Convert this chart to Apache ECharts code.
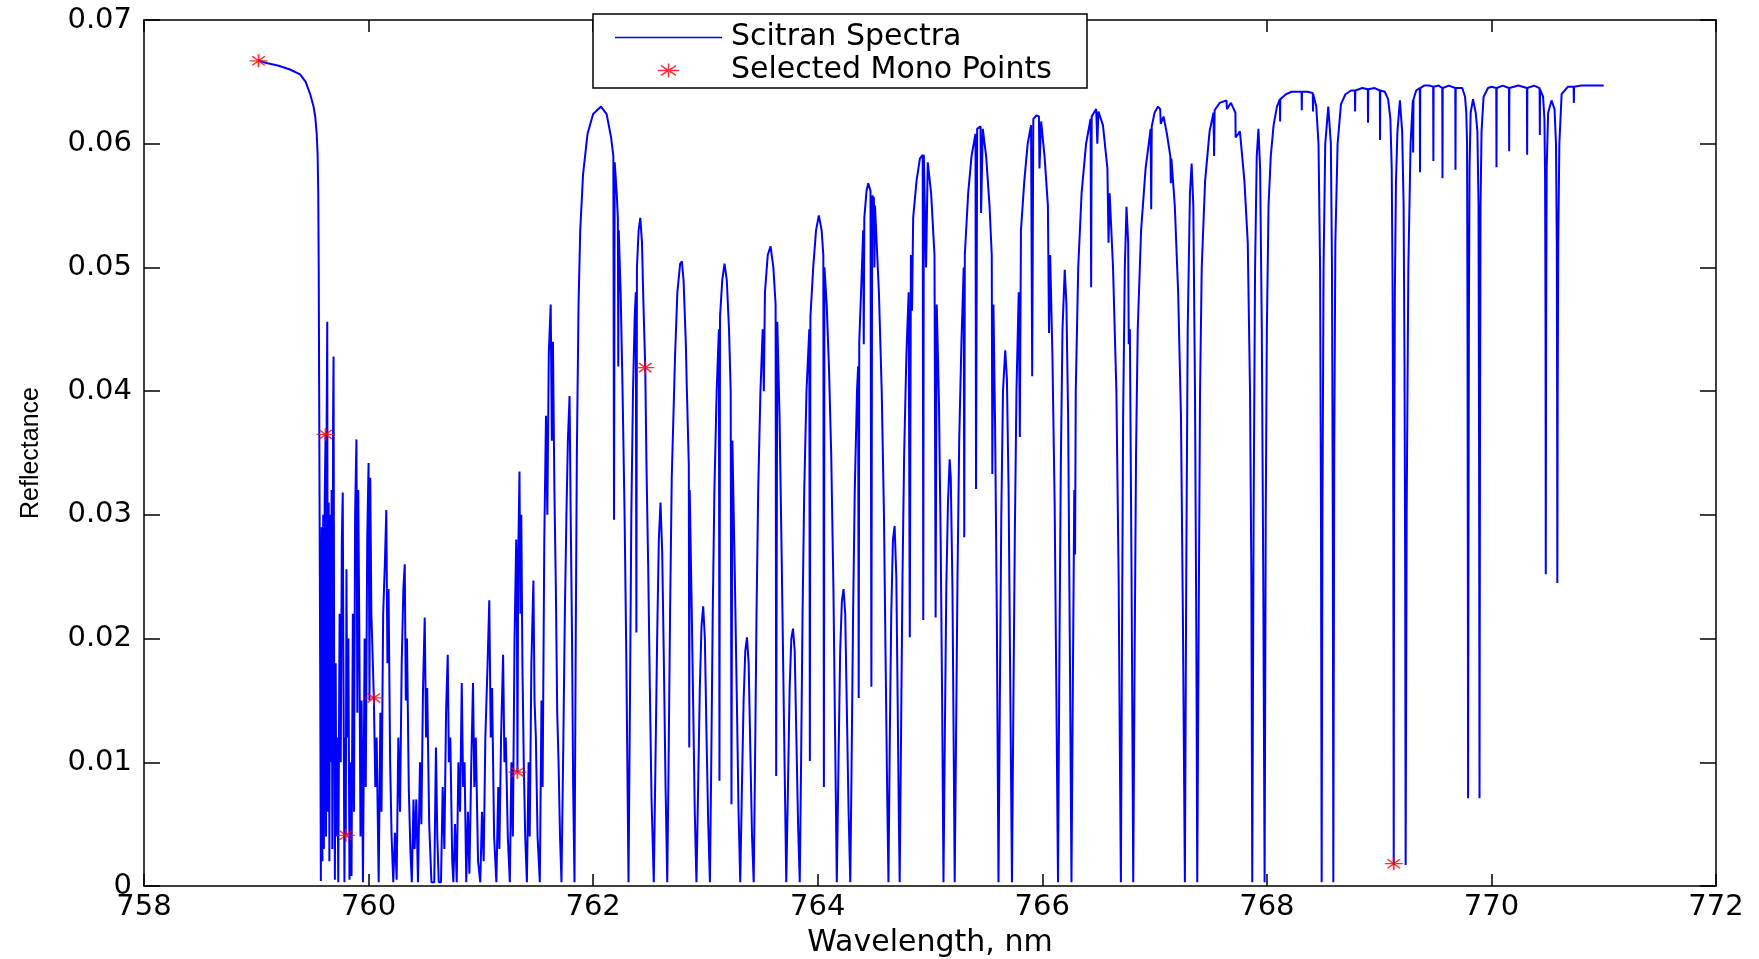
<!DOCTYPE html>
<html>
<head>
<meta charset="utf-8">
<script src="https://cdn.jsdelivr.net/npm/echarts@6/dist/echarts.min.js"></script>
<style>
html,body{margin:0;padding:0;background:#fff;}
#chart{width:1759px;height:959px;}
</style>
</head>
<body>
<div id="chart"></div>
<script>
// ---- Data (wavelength nm, reflectance) ----
const headSpec = [
[759.02,0.0667],[759.10,0.0665],[759.20,0.0663],[759.30,0.0660],[759.39,0.0656],[759.44,0.0650],
[759.48,0.0640],[759.51,0.0630],[759.525,0.0622],[759.538,0.0608],[759.546,0.0592],[759.552,0.0560],
[759.556,0.0500],[759.560,0.0400],[759.564,0.0300],[759.570,0.0150],[759.575,0.0004]
];
const forestSpec = [
[759.583,0.029],[759.589,0.002],[759.596,0.030],[759.602,0.003],[759.609,0.031],[759.617,0.0365],[759.621,0.004],
[759.627,0.038],[759.632,0.0456],[759.637,0.006],[759.645,0.031],[759.651,0.002],[759.658,0.030],[759.664,0.010],
[759.671,0.032],[759.677,0.003],[759.684,0.038],[759.688,0.0428],[759.694,0.015],[759.700,0.0005],[759.707,0.018],
[759.713,0.004],[759.722,0.012],[759.730,0.0003],[759.742,0.022],[759.752,0.010],[759.762,0.028],[759.770,0.0318],
[759.776,0.018],[759.785,0.0003],[759.792,0.012],[759.797,0.0041],[759.803,0.0256],[759.810,0.012],[759.820,0.020],
[759.830,0.0005],[759.840,0.010],[759.848,0.0008],[759.860,0.022],[759.870,0.006],[759.880,0.030],[759.892,0.0361],
[759.900,0.014],[759.908,0.032],[759.918,0.020],[759.928,0.004],[759.938,0.015],[759.950,0.0003],[759.965,0.020],
[759.975,0.008],[759.988,0.028],[760.000,0.0342],[760.008,0.015],[760.015,0.033],[760.025,0.022],[760.038,0.018],
[760.047,0.0152],[760.060,0.008],[760.072,0.012],[760.090,0.0003],[760.105,0.014],[760.115,0.006],[760.130,0.022],
[760.145,0.026],[760.158,0.0304],[760.168,0.018],[760.178,0.024],[760.192,0.010],[760.205,0.004],[760.220,0.0003],
[760.235,0.0043],[760.250,0.0005],[760.265,0.012],[760.280,0.006],[760.295,0.018],[760.310,0.024],[760.322,0.026],
[760.332,0.015],[760.342,0.020],[760.358,0.008],[760.372,0.003],[760.385,0.0003],[760.400,0.007],[760.410,0.003],
[760.425,0.007],[760.440,0.0003],[760.458,0.010],[760.470,0.005],[760.485,0.016],[760.500,0.0217],[760.512,0.012],
[760.522,0.016],[760.540,0.005],[760.560,0.0003],[760.585,0.0003],[760.600,0.0112],[760.612,0.004],[760.625,0.0003],
[760.645,0.0003],[760.660,0.008],[760.675,0.003],[760.690,0.014],[760.705,0.0187],[760.715,0.010],[760.728,0.012],
[760.745,0.002],[760.755,0.0003],[760.770,0.005],[760.785,0.0003],[760.800,0.010],[760.815,0.006],[760.830,0.0164],
[760.842,0.008],[760.855,0.010],[760.870,0.0003],[760.885,0.006],[760.898,0.001],[760.915,0.010],[760.930,0.0164],
[760.942,0.008],[760.955,0.012],[760.975,0.002],[760.995,0.0003],[761.010,0.006],[761.025,0.002],[761.040,0.012],
[761.060,0.018],[761.075,0.0231],[761.088,0.012],[761.100,0.016],[761.118,0.004],[761.138,0.0003],[761.155,0.008],
[761.165,0.003],[761.180,0.012],[761.198,0.0187],[761.210,0.010],[761.222,0.012],[761.240,0.004],[761.258,0.0003],
[761.272,0.010],[761.285,0.004],[761.300,0.020],[761.315,0.028],[761.322,0.020],[761.326,0.0092],[761.332,0.026],
[761.344,0.0335],[761.352,0.022],[761.360,0.030],[761.370,0.018],[761.382,0.010],[761.395,0.004],[761.410,0.0003],
[761.425,0.010],[761.435,0.004],[761.450,0.018],[761.468,0.0247],[761.478,0.015],[761.490,0.012],[761.505,0.004],
[761.525,0.0003],[761.540,0.015],[761.550,0.008],[761.565,0.028],[761.580,0.038],[761.592,0.030],[761.605,0.043],
[761.622,0.047],[761.632,0.036],[761.642,0.044],[761.655,0.032],[761.668,0.024],[761.680,0.014],[761.692,0.010],
[761.705,0.004],[761.718,0.0003],[761.735,0.012],[761.748,0.022],[761.762,0.030],[761.775,0.036],[761.790,0.0396],
[761.800,0.030],[761.812,0.020],[761.822,0.008],[761.834,0.0003]
];
const domeSpec = [
[761.845,0.020],[761.855,0.035],[761.870,0.047],[761.885,0.053],[761.910,0.0575],[761.950,0.0608],[762.000,0.0624],
[762.070,0.0630],[762.120,0.0624],[762.160,0.0605],[762.180,0.0590],[762.186,0.0296],[762.192,0.0585],[762.210,0.0560],
[762.220,0.0540],[762.224,0.0420],[762.228,0.0530],[762.245,0.0480],[762.262,0.0400],[762.280,0.0300],[762.296,0.0180],
[762.315,0.0003],
[762.328,0.015],[762.340,0.030],[762.355,0.040],[762.370,0.046],[762.380,0.048],[762.385,0.0205],[762.390,0.050],
[762.405,0.053],[762.420,0.054],[762.435,0.052],[762.448,0.047],[762.464,0.0419],[762.475,0.034],[762.490,0.026],
[762.505,0.016],[762.520,0.007],[762.540,0.0003],
[762.555,0.010],[762.570,0.020],[762.585,0.028],[762.600,0.031],[762.615,0.027],[762.630,0.018],[762.645,0.008],[762.660,0.0003],
[762.672,0.010],[762.685,0.022],[762.700,0.033],[762.715,0.038],[762.730,0.043],[762.750,0.048],[762.775,0.0503],
[762.790,0.0505],[762.805,0.049],[762.825,0.044],[762.835,0.040],[762.852,0.034],[762.856,0.0112],[762.860,0.032],
[762.875,0.024],[762.892,0.014],[762.905,0.006],[762.920,0.0003],
[762.935,0.008],[762.950,0.016],[762.965,0.021],[762.980,0.0226],[762.995,0.020],[763.010,0.012],[763.025,0.005],[763.040,0.0003],
[763.052,0.010],[763.065,0.022],[763.080,0.032],[763.100,0.040],[763.120,0.045],[763.125,0.0085],[763.130,0.046],
[763.150,0.049],[763.170,0.0503],[763.190,0.049],[763.210,0.045],[763.225,0.040],[763.232,0.0066],[763.240,0.036],
[763.260,0.026],[763.280,0.015],[763.295,0.006],[763.310,0.0003],
[763.325,0.008],[763.340,0.015],[763.355,0.019],[763.370,0.0201],[763.385,0.018],[763.400,0.011],[763.415,0.004],[763.430,0.0003],
[763.442,0.010],[763.455,0.022],[763.470,0.032],[763.490,0.040],[763.510,0.045],[763.520,0.040],[763.530,0.048],
[763.555,0.051],[763.580,0.0517],[763.605,0.050],[763.625,0.047],[763.630,0.0089],[763.640,0.0456],[763.660,0.038],
[763.680,0.026],[763.700,0.013],[763.720,0.0003],
[763.735,0.008],[763.750,0.016],[763.765,0.020],[763.780,0.0208],[763.795,0.019],[763.810,0.012],[763.825,0.005],[763.840,0.0003],
[763.852,0.010],[763.865,0.022],[763.880,0.032],[763.900,0.040],[763.925,0.045],[763.930,0.0101],[763.935,0.046],
[763.960,0.050],[763.985,0.053],[764.010,0.0542],[764.035,0.053],[764.050,0.051],[764.055,0.008],[764.060,0.050],
[764.080,0.047],[764.100,0.042],[764.120,0.035],[764.140,0.024],[764.155,0.012],[764.170,0.0003],
[764.185,0.010],[764.200,0.019],[764.215,0.023],[764.230,0.024],[764.245,0.022],[764.260,0.014],[764.275,0.006],[764.290,0.0003],
[764.302,0.010],[764.315,0.022],[764.330,0.032],[764.350,0.040],[764.360,0.042],[764.365,0.0152],[764.370,0.044],
[764.390,0.049],[764.405,0.053],[764.410,0.0438],[764.415,0.054],[764.435,0.0562],[764.450,0.0568],[764.470,0.0562],
[764.478,0.0161],[764.485,0.0558],[764.500,0.0556],[764.505,0.050],[764.510,0.0550],[764.520,0.053],[764.545,0.048],
[764.570,0.040],[764.590,0.030],[764.605,0.018],[764.618,0.008],[764.630,0.0003],
[764.642,0.012],[764.655,0.022],[764.670,0.028],[764.685,0.0291],[764.700,0.025],[764.712,0.015],[764.722,0.006],[764.730,0.0003],
[764.742,0.012],[764.755,0.025],[764.770,0.035],[764.790,0.043],[764.810,0.048],[764.820,0.0201],[764.830,0.051],
[764.840,0.0465],[764.850,0.054],[764.880,0.057],[764.910,0.0588],[764.935,0.0591],[764.940,0.0215],[764.945,0.0591],
[764.960,0.0590],[764.965,0.050],[764.980,0.0585],[765.010,0.056],[765.040,0.051],[765.050,0.0217],[765.060,0.047],
[765.080,0.039],[765.095,0.028],[765.108,0.015],[765.120,0.0003],
[765.132,0.012],[765.145,0.024],[765.160,0.031],[765.175,0.0345],[765.185,0.033],[765.200,0.024],[765.212,0.010],[765.220,0.0003],
[765.232,0.012],[765.245,0.025],[765.260,0.036],[765.280,0.044],[765.300,0.050],[765.305,0.0282],[765.310,0.051],
[765.340,0.056],[765.370,0.059],[765.405,0.0608],[765.410,0.0321],[765.420,0.0612],[765.450,0.0614],[765.455,0.0544],
[765.470,0.0612],[765.500,0.059],[765.530,0.055],[765.550,0.051],[765.555,0.0333],[765.565,0.047],[765.580,0.037],
[765.595,0.022],[765.610,0.0003],
[765.622,0.015],[765.635,0.030],[765.650,0.040],[765.670,0.0433],[765.685,0.041],[765.700,0.032],[765.715,0.016],[765.730,0.0003],
[765.742,0.014],[765.755,0.028],[765.770,0.040],[765.790,0.048],[765.800,0.0363],[765.810,0.053],[765.840,0.057],
[765.870,0.060],[765.900,0.0615],[765.910,0.0412],[765.920,0.0620],[765.950,0.0623],[765.970,0.0622],[765.975,0.058],
[765.990,0.0618],[766.020,0.059],[766.050,0.055],[766.060,0.0447],[766.070,0.051],[766.090,0.043],[766.110,0.031],
[766.125,0.016],[766.140,0.0003],
[766.152,0.018],[766.165,0.034],[766.180,0.045],[766.200,0.0498],[766.215,0.047],[766.230,0.038],[766.245,0.020],[766.260,0.0003],
[766.272,0.016],[766.285,0.032],[766.292,0.0268],[766.298,0.040],[766.320,0.050],[766.350,0.056],[766.390,0.060],
[766.430,0.0620],[766.435,0.0484],[766.440,0.0622],[766.480,0.0628],[766.490,0.0600],[766.500,0.0626],[766.540,0.0615],
[766.580,0.058],[766.590,0.052],[766.600,0.056],[766.630,0.050],[766.660,0.040],[766.680,0.025],[766.690,0.012],[766.700,0.0003],
[766.710,0.020],[766.720,0.038],[766.735,0.050],[766.750,0.0549],[766.765,0.052],[766.770,0.0438],[766.780,0.045],
[766.795,0.025],[766.810,0.0003],
[766.822,0.018],[766.835,0.035],[766.850,0.045],[766.880,0.053],[766.920,0.058],[766.965,0.0612],[766.970,0.0547],
[766.975,0.0614],[767.000,0.0625],[767.030,0.0630],[767.050,0.0628],[767.055,0.0616],[767.080,0.0622],[767.110,0.0608],
[767.140,0.0590],[767.145,0.0568],[767.150,0.0588],[767.180,0.055],[767.210,0.048],[767.235,0.038],[767.252,0.022],[767.270,0.0003],
[767.282,0.025],[767.295,0.045],[767.315,0.056],[767.330,0.0584],[767.345,0.055],[767.360,0.040],[767.372,0.020],[767.380,0.0003],
[767.392,0.020],[767.405,0.040],[767.420,0.050],[767.450,0.057],[767.490,0.061],[767.525,0.0625],[767.530,0.059],
[767.535,0.0627],[767.580,0.0633],[767.640,0.0635],[767.645,0.0628],[767.680,0.0633],[767.720,0.0625],[767.722,0.0605],
[767.760,0.0610],[767.800,0.057],[767.830,0.052],[767.850,0.040],[767.862,0.025],[767.870,0.0003],
[767.882,0.030],[767.895,0.050],[767.910,0.059],[767.925,0.0612],[767.940,0.058],[767.955,0.045],[767.968,0.025],[767.980,0.0003]
];
const plateauSpec = [
[767.990,0.030],[768.000,0.045],[768.015,0.055],[768.035,0.059],[768.060,0.0615],[768.090,0.0630],[768.116,0.0636],
[768.118,0.0618],[768.120,0.0636],[768.170,0.0640],[768.220,0.0642],[768.309,0.0642],[768.311,0.0627],[768.313,0.0642],
[768.360,0.0642],[768.409,0.0641],[768.411,0.0626],[768.413,0.0640],[768.440,0.0630],[768.460,0.0600],[768.474,0.0500],
[768.482,0.0300],[768.488,0.0003],[768.495,0.030],[768.505,0.050],[768.520,0.0600],[768.547,0.0630],[768.570,0.0600],
[768.580,0.0500],[768.587,0.0300],[768.592,0.0003],[768.600,0.035],[768.610,0.052],[768.630,0.060],[768.660,0.0632],
[768.700,0.0640],[768.750,0.0643],[768.784,0.0643],[768.786,0.0626],[768.788,0.0643],[768.850,0.0645],[768.899,0.0644],
[768.901,0.0617],[768.903,0.0644],[768.960,0.0645],[769.006,0.0643],[769.008,0.0603],[769.010,0.0643],[769.050,0.0642],
[769.080,0.0636],[769.100,0.0620],[769.112,0.058],[769.120,0.048],[769.126,0.030],[769.130,0.0017],[769.133,0.030],
[769.140,0.048],[769.150,0.057],[769.163,0.061],[769.185,0.0635],[769.205,0.061],[769.218,0.055],[769.226,0.042],
[769.232,0.025],[769.236,0.0017]
];
const tailSpec = [
[769.245,0.030],[769.260,0.050],[769.280,0.060],[769.300,0.0635],[769.303,0.0593],[769.306,0.0636],[769.330,0.0643],
[769.362,0.0645],[769.364,0.0577],[769.366,0.0645],[769.400,0.0647],[769.450,0.0647],[769.481,0.0646],[769.483,0.0586],
[769.485,0.0646],[769.530,0.0647],[769.562,0.0645],[769.564,0.0572],[769.566,0.0645],[769.620,0.0647],[769.678,0.0645],
[769.680,0.0579],[769.682,0.0645],[769.740,0.0645],[769.765,0.0638],[769.776,0.0625],[769.783,0.060],[769.787,0.045],
[769.790,0.025],[769.792,0.0071],[769.795,0.025],[769.799,0.045],[769.805,0.058],[769.815,0.0625],[769.836,0.0636],
[769.860,0.0625],[769.875,0.061],[769.885,0.055],[769.890,0.035],[769.894,0.0071],[769.898,0.035],[769.903,0.055],
[769.912,0.061],[769.930,0.0638],[769.970,0.0645],[770.000,0.0646],[770.043,0.0645],[770.045,0.0581],[770.047,0.0645],
[770.100,0.0647],[770.156,0.0645],[770.158,0.0594],[770.160,0.0645],[770.240,0.0647],[770.316,0.0645],[770.318,0.0591],
[770.320,0.0645],[770.380,0.0647],[770.429,0.0645],[770.431,0.0607],[770.433,0.0644],[770.460,0.0638],[770.472,0.062],
[770.478,0.057],[770.482,0.045],[770.484,0.0252],[770.487,0.045],[770.492,0.058],[770.505,0.0625],[770.535,0.0635],
[770.562,0.0628],[770.575,0.060],[770.582,0.052],[770.585,0.040],[770.587,0.0245],[770.590,0.040],[770.595,0.052],
[770.605,0.060],[770.625,0.0640],[770.680,0.0646],[770.732,0.0646],[770.734,0.0633],[770.736,0.0646],[770.800,0.0647],
[770.900,0.0647],[771.000,0.0647]
];
const monoPoints = [
[759.02,0.0667],[759.617,0.0365],[759.797,0.0041],[760.047,0.0152],[761.326,0.0092],[762.464,0.0419],[769.130,0.0018]
];
const seriesNames = ['Scitran Spectra','Selected Mono Points'];
const xRange = [758, 772, 2];
const yRange = [0, 0.07, 0.01];

const spectrum = headSpec.concat(forestSpec, domeSpec, plateauSpec, tailSpec);
const starPath = 'path://M-10,0L10,0M0,-6.5L0,6.5M-7,-4.6L7,4.6M-7,4.6L7,-4.6';
const legendLinePath = 'path://M0,0L107,0L107,1.5L0,1.5Z';

const chart = echarts.init(document.getElementById('chart'), null, {renderer:'canvas'});
const axisLineStyle = {color:'#000', width:1.5};
chart.setOption({
  animation:false,
  backgroundColor:'#fff',
  grid:{left:144, right:43, top:20, bottom:73, outerBoundsMode:'none', containLabel:false},
  xAxis:[{
    type:'value', min:xRange[0], max:xRange[1], interval:xRange[2], position:'bottom',
    axisLine:{show:true, onZero:false, lineStyle:axisLineStyle},
    axisTick:{show:true, inside:true, length:12, lineStyle:{color:'#000', width:1.5}},
    axisLabel:{show:true, margin:7, color:'#000', fontFamily:'DejaVu Sans', fontSize:29},
    splitLine:{show:false},
    name:'Wavelength, nm', nameLocation:'middle', nameGap:42,
    nameTextStyle:{color:'#000', fontFamily:'DejaVu Sans', fontSize:30}
  },{
    type:'value', min:xRange[0], max:xRange[1], interval:xRange[2], position:'top',
    axisLine:{show:true, onZero:false, lineStyle:axisLineStyle},
    axisTick:{show:true, inside:true, length:12, lineStyle:{color:'#000', width:1.5}},
    axisLabel:{show:false}, splitLine:{show:false}
  }],
  yAxis:[{
    type:'value', min:yRange[0], max:yRange[1], interval:yRange[2], position:'left',
    axisLine:{show:true, onZero:false, lineStyle:axisLineStyle},
    axisTick:{show:true, inside:true, length:16, lineStyle:{color:'#000', width:1.5}},
    axisLabel:{show:true, margin:12, color:'#000', fontFamily:'DejaVu Sans', fontSize:29},
    splitLine:{show:false},
    name:'Reflectance', nameLocation:'middle', nameGap:100, nameRotate:90,
    nameTextStyle:{color:'#000', fontFamily:'Liberation Sans', fontSize:25}
  },{
    type:'value', min:yRange[0], max:yRange[1], interval:yRange[2], position:'right',
    axisLine:{show:true, onZero:false, lineStyle:axisLineStyle},
    axisTick:{show:true, inside:true, length:16, lineStyle:{color:'#000', width:1.5}},
    axisLabel:{show:false}, splitLine:{show:false}
  }],
  graphic:[{
    type:'rect', z:10, silent:true,
    shape:{x:593, y:14, width:494, height:74},
    style:{fill:'#fff', stroke:'#000', lineWidth:1.5}
  }],
  legend:{
    z:20, orient:'vertical', left:615, top:21, padding:0, itemGap:0,
    itemWidth:107, itemHeight:14,
    textStyle:{color:'#000', fontFamily:'DejaVu Sans', fontSize:30, lineHeight:33, padding:[0,0,0,4]},
    data:[
      {name:seriesNames[0], icon:legendLinePath, itemStyle:{color:'#0000ff', borderWidth:0}},
      {name:seriesNames[1], itemStyle:{color:'#ff0000', borderColor:'#ff0000', borderWidth:1.5}}
    ]
  },
  series:[{
    name:seriesNames[0], type:'line', data:spectrum, xAxisIndex:0, yAxisIndex:0,
    showSymbol:false, symbol:'none', smooth:false,
    lineStyle:{color:'#0000ff', width:2}, itemStyle:{color:'#0000ff'}, z:2
  },{
    name:seriesNames[1], type:'scatter', data:monoPoints, xAxisIndex:0, yAxisIndex:0,
    symbol:starPath, symbolSize:[18,13],
    itemStyle:{color:'#ff0000', borderColor:'#ff0000', borderWidth:1.5}, z:3
  }]
});
</script>
</body>
</html>
